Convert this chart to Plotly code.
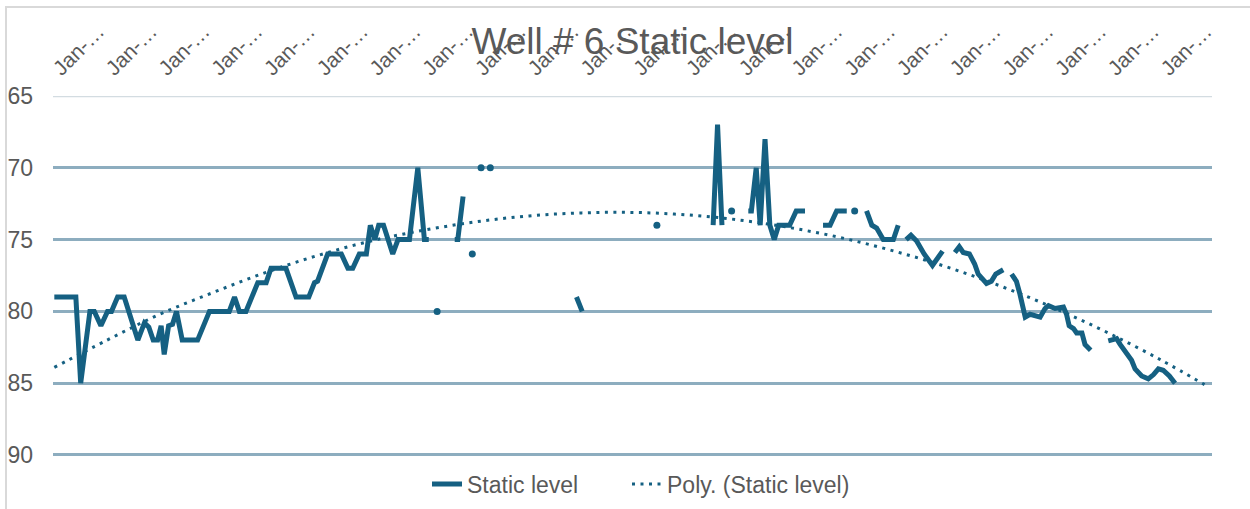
import numpy as np
import pandas as pd
import plotly.graph_objects as go

# ---------------- data ----------------
START = "2000-01-01"                      # first observation (labels are truncated to "Jan-…")
TICK_YEARS = list(range(2000, 2022))
TICK_TEXT = ["Jan-…"] * len(TICK_YEARS)
Y_TICKS = [65, 70, 75, 80, 85, 90]

# months elapsed since START for every observation (None level = missing reading)
obs_months = [
    0.0, 4.9, 6.0, 8.1, 9.1, 10.6, 12.1, 13.0, 14.4, 15.9, 19.0, 20.5, 21.5, 22.5, 23.5,
    24.3, 25.0, 26.0, 26.9, 27.8, 29.1, 32.6, 35.3, 39.8, 41.0, 42.1, 43.6, 46.3, 48.2,
    49.3, 52.7, 55.0, 57.9, 59.2, 59.9, 62.2, 65.3, 66.8, 67.9, 69.4, 71.0, 71.9, 72.9,
    73.8, 74.9, 77.0, 78.2, 80.8, 82.7, 84.2, 85.2,
    86.1,
    87.1,
    89.0,
    91.1, 91.8, 93.0,
    94.0,
    95.1,
    96.1,
    97.1,
    98.1,
    99.2,
    110.0,
    118.8, 120.1,
    130.0,
    137.1,
    143.0,
    149.9, 150.9, 151.9,
    153.0,
    154.1,
    156.0,
    157.9, 158.6, 159.7, 160.6, 161.7, 162.8, 163.8, 164.8, 165.8, 167.3, 168.8, 170.8,
    173.0,
    174.9, 176.5, 178.0, 180.3,
    181.2,
    182.1,
    183.5,
    184.8, 186.0, 187.1, 188.6, 190.9, 192.0,
    193.0,
    193.8, 194.9, 196.2, 197.9, 199.8, 201.1, 202.1,
    203.5,
    204.9, 205.9, 206.8, 208.2, 209.4, 210.2, 212.1, 213.2, 214.2, 215.9,
    217.0,
    217.8, 218.9, 219.7, 220.9, 222.0, 224.3, 225.4, 226.2, 227.7, 229.6, 230.3, 230.9,
    231.9, 232.6, 233.8, 234.5, 235.8,
    238.0,
    239.8, 241.7, 242.5, 244.0, 245.1, 245.9, 247.4, 248.9, 250.1, 251.2, 252.3, 253.7,
    255.0,
]
static_level = [
    79, 79, 85, 80, 80, 81, 80, 80, 79, 79, 82, 80.8, 81.1, 82, 82,
    81, 83, 81, 80.9, 80, 82, 82, 80, 80, 79, 80, 80, 78, 78,
    77, 77, 79, 79, 78, 77.9, 76, 76, 77, 77, 76, 76, 74, 75,
    74, 74, 76, 75, 75, 70, 75, 75,
    None,
    80,
    None,
    75, 75, 72,
    None,
    76,
    None,
    70,
    None,
    70,
    None,
    79, 80,
    None,
    74,
    None,
    74, 67, 74,
    None,
    73,
    None,
    73, 73, 70, 74, 68, 74, 75, 74, 74, 74, 73, 73,
    None,
    74, 74, 73, 73,
    None,
    73,
    None,
    73, 74, 74.2, 75, 75, 74,
    None,
    75, 74.7, 75.1, 76.0, 76.8, 76.2, 75.8,
    None,
    75.9, 75.5, 75.9, 76, 76.7, 77.4, 78.05, 77.9, 77.4, 77.1,
    None,
    77.4, 77.9, 78.8, 80.4, 80.2, 80.4, 79.8, 79.6, 79.8, 79.7, 80.2, 81.0,
    81.2, 81.5, 81.5, 82.3, 82.7,
    None,
    82.05, 81.9, 82.3, 83.0, 83.4, 84.0, 84.5, 84.7, 84.4, 84.0, 84.1, 84.5,
    85,
]

# Excel "Poly. (Static level)" trendline
trend_months = [0, 12, 24, 36, 48, 60, 72, 84, 96, 108, 120, 132, 144, 156, 168,
                180, 192, 204, 216, 228, 240, 252, 261.7]
trend_level = [83.9, 82.0, 80.2, 78.7, 77.3, 76.1, 75.1, 74.35, 73.76, 73.35, 73.14,
               73.11, 73.28, 73.64, 74.2, 74.94, 75.88, 77.0, 78.32, 79.83, 81.53,
               83.42, 85.1]

# ---------------- helpers ----------------
DAYS_PER_MONTH = 365.25 / 12
t0 = pd.Timestamp(START)


def to_dates(months):
    return [t0 + pd.to_timedelta(m * DAYS_PER_MONTH, unit="D") for m in months]


obs_dates = to_dates(obs_months)
trend_dates = to_dates(trend_months)
tick_dates = [pd.Timestamp(f"{y}-01-01") for y in TICK_YEARS]

# readings with no neighbour on either side are shown as single dots
iso_x, iso_y = [], []
n = len(static_level)
for i, v in enumerate(static_level):
    if v is None:
        continue
    left = static_level[i - 1] if i > 0 else None
    right = static_level[i + 1] if i < n - 1 else None
    if left is None and right is None:
        iso_x.append(obs_dates[i])
        iso_y.append(v)

LINE_COLOR = "#156082"
TEXT_COLOR = "#595959"
GRID_COLOR = "#8DADBF"

fig = go.Figure()
fig.add_trace(go.Scatter(
    x=obs_dates, y=static_level, mode="lines", name="Static level",
    line=dict(color=LINE_COLOR, width=5), connectgaps=False, legend="legend",
))
fig.add_trace(go.Scatter(
    x=iso_x, y=iso_y, mode="markers", showlegend=False, hoverinfo="skip",
    marker=dict(color=LINE_COLOR, size=7, line=dict(width=0)),
))
fig.add_trace(go.Scatter(
    x=trend_dates, y=trend_level, mode="lines", name="Poly. (Static level)",
    line=dict(color=LINE_COLOR, width=3, dash="3px,5.5px", shape="spline"),
    legend="legend2",
))

x_lo = t0 + pd.to_timedelta(-0.3 * DAYS_PER_MONTH, unit="D")
x_hi = t0 + pd.to_timedelta(263.4 * DAYS_PER_MONTH, unit="D")

PLOT_LEFT, PLOT_RIGHT = 53, 1212
PLOT_TOP, PLOT_BOTTOM = 96, 458
PLOT_W = PLOT_RIGHT - PLOT_LEFT
PLOT_H = PLOT_BOTTOM - PLOT_TOP


def paper_x(px):
    return (px - PLOT_LEFT) / PLOT_W


def paper_y(px):
    return (PLOT_BOTTOM - px) / PLOT_H


legend_style = dict(orientation="h", xanchor="left", y=paper_y(484), yanchor="middle",
                    font=dict(size=23, color=TEXT_COLOR), bgcolor="rgba(0,0,0,0)")

fig.update_layout(
    width=1250, height=509,
    margin=dict(l=PLOT_LEFT, r=1250 - PLOT_RIGHT, t=PLOT_TOP, b=509 - PLOT_BOTTOM,
                autoexpand=False),
    paper_bgcolor="white", plot_bgcolor="white",
    font=dict(family="Liberation Sans, Arial, sans-serif", color=TEXT_COLOR),
    title=dict(text="Well # 6 Static level", x=0.506, xanchor="center",
               y=0.9185, yanchor="middle", yref="container",
               font=dict(size=37, color=TEXT_COLOR)),
    legend=dict(x=paper_x(427), **legend_style),
    legend2=dict(x=paper_x(627), **legend_style),
    xaxis=dict(type="date", side="top", range=[x_lo, x_hi],
               tickmode="array", tickvals=tick_dates, ticktext=TICK_TEXT,
               tickangle=-45, tickfont=dict(size=21, color=TEXT_COLOR),
               ticks="", showgrid=False, zeroline=False, showline=False,
               ticklabelstandoff=11),
    yaxis=dict(range=[90.21, 65], tickmode="array", tickvals=Y_TICKS,
               ticks="", showgrid=True, gridcolor=GRID_COLOR, gridwidth=2.5,
               zeroline=False, showline=False,
               tickfont=dict(size=23, color=TEXT_COLOR), ticklabelstandoff=19),
    shapes=[
        dict(type="rect", xref="paper", yref="paper",
             x0=paper_x(6), x1=1.06, y0=-0.2, y1=paper_y(7),
             line=dict(color="#D9D9D9", width=2), fillcolor="rgba(0,0,0,0)",
             layer="below"),
        # light horizontal axis line along the top (y = 65)
        dict(type="line", xref="paper", yref="y", x0=0, x1=1, y0=65, y1=65,
             line=dict(color="#D3DCE1", width=2.5), layer="above"),
    ],
)

fig.write_html("out.html", config={"displayModeBar": False},
               post_script="document.body.style.margin='0';")
